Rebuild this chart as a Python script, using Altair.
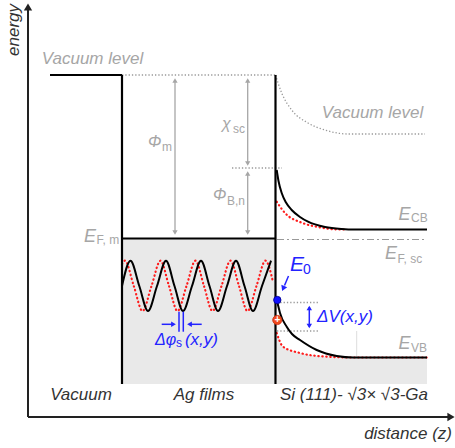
import altair as alt
import pandas as pd

FONT = "Liberation Sans"
GRAY = "#a6a6a6"
BLUE = "#2323ff"
RED = "#ff1a1a"
DARK = "#333333"

# ---------------- data: z = distance, e = energy (arbitrary units) ----------------
# axes (origin at 0,0)
axis_segments = [(0, 0, 0, 408), (0, 0, 421, 0)]
axis_head_up = ([0], [410])
axis_head_right = ([423], [0])

# solid black band edges (metal vacuum level, metal wall, Fermi level of metal, interface)
black_segments = [
    (22, 342, 94, 342),
    (94, 342, 94, 33),
    (94, 178.5, 247.5, 178.5),
    (247.5, 342, 247.5, 33),
]

# gray dotted guide lines
dotted_segments = [
    (94, 342, 247.5, 342),
    (204, 249, 254, 249),
    (249, 114.5, 290, 114.5),
    (249, 86, 290, 86),
]
faint_segments = [(328.7, 86, 328.7, 60)]
fermi_sc_segment = [(249, 177.5, 399, 177.5)]

# gray dimension arrows: Phi_m, chi_sc, Phi_B,n
gray_arrow_segments = [
    (147, 337, 147, 184),
    (219.7, 337, 219.7, 253),
    (219.7, 244, 219.7, 184),
]
gray_heads_up = ([147, 219.7, 219.7], [336.5, 336.5, 243.5])
gray_heads_down = ([147, 219.7, 219.7], [184.5, 253.5, 184.5])

# semiconductor vacuum level (dotted)
vac_sc_z = [247.5, 253.7, 263.7, 280, 297, 320, 397]
vac_sc_e = [342, 324, 307, 294, 287, 283, 283]

# conduction band (black) and shifted (red dotted)
cb_z = [248.7, 250.5, 253.7, 258, 263.7, 272, 280, 297, 313.7, 327, 399]
cb_e = [247, 236, 224, 214.5, 207, 200, 195.3, 190, 188, 187.5, 187.5]
cb_red_z = [248.7, 257, 273.7, 290, 307, 317]
cb_red_e = [215.3, 204, 194.3, 190, 187.7, 187.5]

# valence band (black) and shifted (red dotted)
vb_z = [248.7, 250.5, 252, 258.7, 264, 272, 288.7, 308.7, 325.3, 399]
vb_e = [117, 110, 104, 90.3, 83, 77, 67, 61, 59.5, 59.5]
vb_red_z = [248.7, 255, 272, 298.7, 325, 399]
vb_red_e = [84, 70.3, 64, 60.3, 59.5, 59.5]

# quantum-well state wave in the Ag film (black) and phase-shifted (red dotted)
wave_z = [94, 102.5, 111.3, 120, 129, 138, 146.5, 155, 164, 173, 181.5, 190,
          199, 208, 216.5, 225, 234, 243]
wave_e = [131, 156.3, 131, 106, 131, 156.3, 131, 106, 131, 156.3, 131, 106,
          131, 156.3, 131, 106, 131, 156.3]
wave_red_z = [94, 97, 105.8, 114.5, 123.5, 132.5, 141, 149.5, 158.5, 167.5, 176,
              184.5, 193.5, 202.5, 211, 219.5, 228.5, 237.5, 245]
wave_red_e = [153, 156.3, 131, 106, 131, 156.3, 131, 106, 131, 156.3, 131,
              106, 131, 156.3, 131, 106, 131, 156.3, 135]

# occupied regions (hatched)
ag_fill = [(94, 33, 247.5, 178.5)]
si_fill_z = vb_red_z
si_fill_e = vb_red_e
si_fill_base = 33

# blue markers
blue_segments = [
    (281.3, 110, 281.3, 90),      # Delta V arrow
    (133.7, 92.7, 146, 92.7),     # Delta phi left arrow
    (173.7, 92.7, 162, 92.7),     # Delta phi right arrow
    (151, 105.3, 151, 85.3),
    (155.3, 105.3, 155.3, 85.3),
    (260.5, 141, 256.5, 131.5),   # E0 arrow
]
blue_heads_up = ([281.3], [109])
blue_heads_down = ([281.3], [91])
blue_heads_right = ([145.5], [92.7])
blue_heads_left = ([161.5], [92.7])
e0_head = ([255.2], [128.5])
e0_point = ([249.3], [117])
hole_point = ([249.3], [97])

# labels
gray_big = [("Vacuum level", 64.5, 358.5), ("Vacuum level", 344.5, 304)]
gray_main = [("E", 56, 180), ("E", 370.5, 202), ("E", 357, 163.5), ("E", 370.5, 73.5)]
gray_greek = [("Φ", 120, 275.5), ("χ", 194, 293), ("Φ", 185, 222)]
gray_sub = [("m", 134, 270), ("sc", 205, 288), ("B,n", 199, 216), ("F, m", 68.5, 177),
            ("CB", 383, 199), ("F, sc", 369.5, 158.5), ("VB", 383, 69.5)]
blue_main = [("E", 262, 152)]
blue_sub = [("0", 275, 147.5)]
blue_labels = [("ΔV(x,y)", 289, 100.3)]
blue_dphi = [("Δφ", 127, 77)]
blue_small = [("s", 148, 74)]
blue_xy = [("(x,y)", 190, 77)]
dark_labels = [("Vacuum", 53, 22), ("Ag films", 176, 22), ("Si (111)- √3× √3-Ga", 326, 22)]
xlabel = [("distance (z)", 424, -16.5)]
ylabel = [("energy", -14, 387)]

# ---------------- chart helpers ----------------
XS = alt.Scale(domain=[-28, 427])
YS = alt.Scale(domain=[-31, 417])


def xy(extra=None):
    enc = dict(x=alt.X("z:Q", scale=XS, axis=None), y=alt.Y("e:Q", scale=YS, axis=None))
    if extra:
        enc.update(extra)
    return enc


def segs(rows, **mk):
    df = pd.DataFrame(rows, columns=["z", "e", "z2", "e2"])
    return alt.Chart(df).mark_rule(**mk).encode(**xy({"x2": "z2:Q", "y2": "e2:Q"}))


def curve(zs, es, **mk):
    df = pd.DataFrame({"z": zs, "e": es, "i": list(range(len(zs)))})
    return alt.Chart(df).mark_line(interpolate="monotone", **mk).encode(**xy({"order": "i:Q"}))


def pts(zz, **mk):
    df = pd.DataFrame({"z": zz[0], "e": zz[1]})
    return alt.Chart(df).mark_point(**mk).encode(**xy())


def texts(items, **mk):
    df = pd.DataFrame(items, columns=["t", "z", "e"])
    kw = dict(font=FONT, baseline="middle")
    kw.update(mk)
    return alt.Chart(df).mark_text(**kw).encode(**xy({"text": "t:N"}))


layers = []
# hatched regions
ag_df = pd.DataFrame(ag_fill, columns=["z", "e", "z2", "e2"])
layers.append(alt.Chart(ag_df).mark_rect(color="#e9e9e9").encode(**xy({"x2": "z2:Q", "y2": "e2:Q"})))
si_df = pd.DataFrame({"z": si_fill_z, "e": si_fill_e, "b": [si_fill_base] * len(si_fill_z)})
layers.append(alt.Chart(si_df).mark_area(color="#e9e9e9", interpolate="monotone").encode(**xy({"y2": "b:Q"})))

# waves
layers.append(curve(wave_red_z, wave_red_e, color=RED, strokeWidth=2.2, strokeDash=[0.4, 3.6], strokeCap="round"))
layers.append(curve(wave_z, wave_e, color="black", strokeWidth=2))

# guides
layers.append(segs(dotted_segments, color="#999999", strokeWidth=1.3, strokeDash=[1.3, 2]))
layers.append(segs(faint_segments, color="#dddddd", strokeWidth=1))
layers.append(segs(fermi_sc_segment, color="#999999", strokeWidth=1.2, strokeDash=[7, 3, 2, 3]))
layers.append(curve(vac_sc_z, vac_sc_e, color="#999999", strokeWidth=1.3, strokeDash=[1.3, 2]))
layers.append(segs(gray_arrow_segments, color=GRAY, strokeWidth=1.3))
layers.append(pts(gray_heads_up, shape="triangle-up", filled=True, color=GRAY, opacity=1, size=28))
layers.append(pts(gray_heads_down, shape="triangle-down", filled=True, color=GRAY, opacity=1, size=28))

# bands
layers.append(curve(cb_red_z, cb_red_e, color=RED, strokeWidth=2.2, strokeDash=[0.4, 3.6], strokeCap="round"))
layers.append(curve(vb_red_z, vb_red_e, color=RED, strokeWidth=2.2, strokeDash=[0.4, 3.6], strokeCap="round"))
layers.append(curve(cb_z, cb_e, color="black", strokeWidth=2))
layers.append(curve(vb_z, vb_e, color="black", strokeWidth=2))
layers.append(segs(black_segments, color="black", strokeWidth=2.2))

# axes
layers.append(segs(axis_segments, color="#222222", strokeWidth=2))
layers.append(pts(axis_head_up, shape="triangle-up", filled=True, color="#222222", opacity=1, size=70))
layers.append(pts(axis_head_right, shape="triangle-right", filled=True, color="#222222", opacity=1, size=70))

# blue annotations
layers.append(segs(blue_segments, color=BLUE, strokeWidth=1.5))
layers.append(pts(blue_heads_up, shape="triangle-up", filled=True, color=BLUE, opacity=1, size=30))
layers.append(pts(blue_heads_down, shape="triangle-down", filled=True, color=BLUE, opacity=1, size=30))
layers.append(pts(blue_heads_right, shape="triangle-right", filled=True, color=BLUE, opacity=1, size=30))
layers.append(pts(blue_heads_left, shape="triangle-left", filled=True, color=BLUE, opacity=1, size=30))
layers.append(pts(e0_head, shape="triangle-up", angle=203, filled=True, color=BLUE, opacity=1, size=40))
layers.append(pts(e0_point, shape="circle", filled=True, fill="#1010ff", stroke="#000088",
                  strokeWidth=0.8, opacity=1, size=55))
layers.append(pts(hole_point, shape="circle", filled=True, fill="#f04a1e", stroke="#c83010",
                  strokeWidth=0.8, opacity=1, size=85))
layers.append(texts([("+", 249.3, 97)], color="white", fontSize=10, fontWeight="bold", align="center"))

# labels
layers.append(texts(gray_big, color=GRAY, fontSize=17, fontStyle="italic", align="center"))
layers.append(texts(gray_main, color=GRAY, fontSize=18, fontStyle="italic", align="left"))
layers.append(texts(gray_greek, color=GRAY, fontSize=16, fontStyle="italic", align="left"))
layers.append(texts(gray_sub, color=GRAY, fontSize=12, align="left"))
layers.append(texts(blue_main, color=BLUE, fontSize=21, fontStyle="italic", align="left"))
layers.append(texts(blue_sub, color=BLUE, fontSize=14, align="left"))
layers.append(texts(blue_labels, color=BLUE, fontSize=17, fontStyle="italic", align="left"))
layers.append(texts(blue_dphi, color=BLUE, fontSize=16, fontStyle="italic", align="left"))
layers.append(texts(blue_small, color=BLUE, fontSize=12, align="left"))
layers.append(texts(blue_xy, color=BLUE, fontSize=17, fontStyle="italic", align="right"))
layers.append(texts(dark_labels, color=DARK, fontSize=17, fontStyle="italic", align="center"))
layers.append(texts(xlabel, color=DARK, fontSize=17, fontStyle="italic", align="right"))
layers.append(texts(ylabel, color=DARK, fontSize=17, fontStyle="italic", align="center", angle=270))

chart = alt.layer(*layers).properties(
    width=455, height=448, padding=0,
    autosize=alt.AutoSizeParams(type="none"),
).configure_view(stroke=None)

chart.save("out.html", embed_options={"renderer": "svg", "actions": False})
